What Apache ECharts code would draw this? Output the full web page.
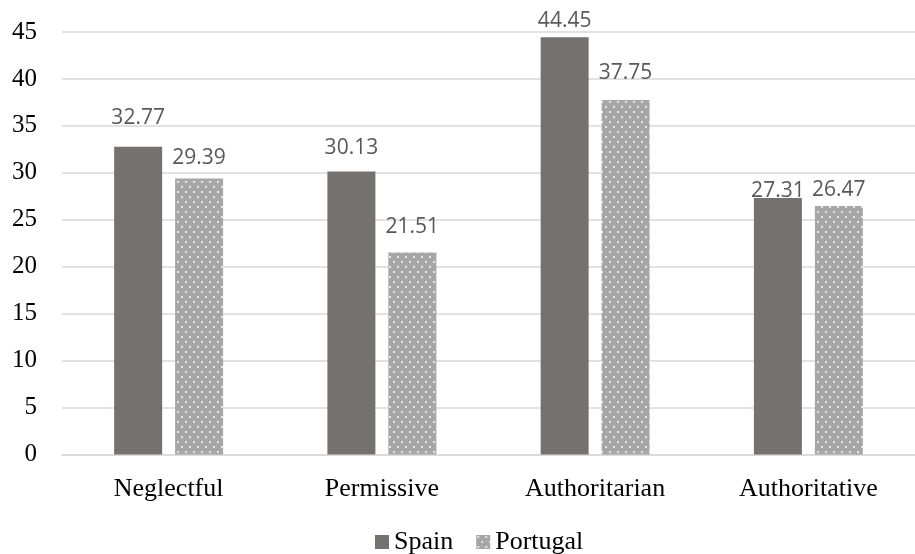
<!DOCTYPE html>
<html>
<head>
<meta charset="utf-8">
<script src="https://cdn.jsdelivr.net/npm/echarts@6/dist/echarts.min.js"></script>
<style>
  html, body { margin: 0; padding: 0; background: #fff; }
  #chart { width: 915px; height: 554px; }
</style>
</head>
<body>
<div id="chart"></div>
<script>
// Parenting style scores by country
const categories = ['Neglectful', 'Permissive', 'Authoritarian', 'Authoritative'];
const spainValues = [32.77, 30.13, 44.45, 27.31];
const portugalValues = [29.39, 21.51, 37.75, 26.47];
const seriesNames = ['Spain', 'Portugal'];
const yMin = 0;
const yMax = 45;
const yStep = 5;

// Hand-placed value labels: extra lift (px) above each bar top
const spainLabelLift = [18, 13, 6, -3];
const portugalLabelLift = [10, 15, 17, 5];

// Light gray fill with a staggered grid of white dots
function dotPattern() {
  const c = document.createElement('canvas');
  c.width = 8;
  c.height = 10;
  const g = c.getContext('2d');
  g.fillStyle = '#A6A6A6';
  g.fillRect(0, 0, 8, 10);
  g.fillStyle = '#E6E6E6';
  g.fillRect(1, 1, 2, 2);
  g.fillRect(5, 6, 2, 2);
  return c;
}

const labelBase = {
  show: true,
  position: 'top',
  distance: 0,
  color: '#595959',
  fontFamily: '"Open Sans", "Noto Sans", sans-serif',
  fontSize: 21,
  formatter: p => p.value.toFixed(2)
};

function withLabels(values, lifts) {
  return values.map((v, i) => ({ value: v, label: { offset: [0, -lifts[i]] } }));
}

const chart = echarts.init(document.getElementById('chart'), null, { renderer: 'canvas' });

chart.setOption({
  animation: false,
  backgroundColor: '#ffffff',
  grid: { left: 62, top: 32, width: 864, bottom: 99.5, containLabel: false },
  legend: {
    data: seriesNames,
    left: 370,
    top: 524,
    itemWidth: 14,
    itemHeight: 14,
    itemGap: 23,
    icon: 'rect',
    textStyle: { fontFamily: '"Liberation Serif", "Times New Roman", serif', fontSize: 26, color: '#000' }
  },
  xAxis: {
    type: 'category',
    data: categories,
    axisLine: { show: true, lineStyle: { color: '#D9D9D9', width: 1.5 } },
    axisTick: { show: false },
    axisLabel: {
      margin: 22,
      color: '#000',
      fontFamily: '"Liberation Serif", "Times New Roman", serif',
      fontSize: 26
    }
  },
  yAxis: {
    type: 'value',
    min: yMin,
    max: yMax,
    interval: yStep,
    axisLine: { show: false },
    axisTick: { show: false },
    splitLine: { lineStyle: { color: '#D9D9D9', width: 1.5 } },
    axisLabel: {
      margin: 25,
      color: '#000',
      fontFamily: '"Liberation Serif", "Times New Roman", serif',
      fontSize: 25
    }
  },
  series: [
    {
      name: seriesNames[0],
      type: 'bar',
      data: withLabels(spainValues, spainLabelLift),
      barWidth: 48,
      barGap: '27%',
      itemStyle: { color: '#767171' },
      label: labelBase
    },
    {
      name: seriesNames[1],
      type: 'bar',
      data: withLabels(portugalValues, portugalLabelLift),
      barWidth: 48,
      barGap: '27%',
      itemStyle: { color: { image: dotPattern(), repeat: 'repeat' } },
      label: labelBase
    }
  ]
});
</script>
</body>
</html>
